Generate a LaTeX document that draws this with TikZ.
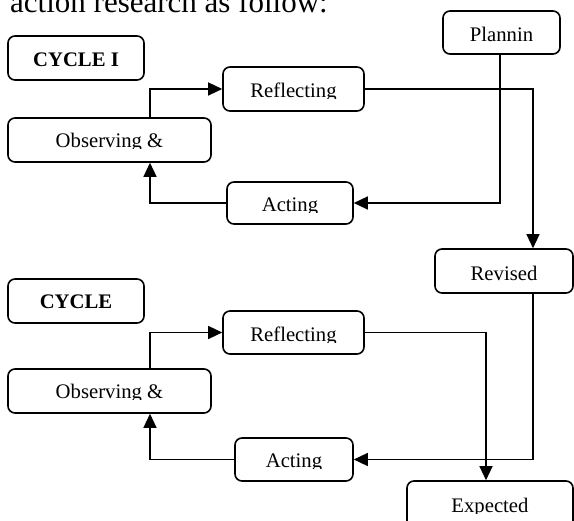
\documentclass[tikz,border=0pt]{standalone}
\usepackage{fontspec}
\setmainfont{Liberation Serif}
\usetikzlibrary{arrows.meta}
\tikzset{
  box/.style={draw, line width=1.6pt, rounded corners=7pt, inner sep=0pt},
  txt/.style={inner sep=0pt, font=\fontsize{20.7}{24}\selectfont, anchor=base},
  conn/.style={line width=1.3pt, -{Triangle[length=14pt,width=13pt]}},
  plain/.style={line width=1.3pt}
}
\newcommand\cliptext[6]{% name, x1, x2, ytop, baseline, text (center x computed)
  \begin{scope}
    \clip (#2,#4) rectangle (#3,#5+1);
    \node[txt] (#1) at ({(#2+#3)/2},#5) {#6};
  \end{scope}}
\begin{document}
\begin{tikzpicture}[x=1pt,y=-1pt]
\useasboundingbox (0,0) rectangle (574,521);
% header
\node[inner sep=0pt, anchor=base west, font=\fontsize{31}{36}\selectfont] (head) at (10,13) {action research as follow:};
% cycle I
\node[box, minimum width=136pt, minimum height=44pt] (cyc1) at (76,58) {};
\node[box, minimum width=117pt, minimum height=43pt] (plan) at (501.5,32.5) {};
\node[box, minimum width=141pt, minimum height=44pt] (ref1) at (293.5,89) {};
\node[box, minimum width=203pt, minimum height=44pt] (obs1) at (109.5,140) {};
\node[box, minimum width=126pt, minimum height=42pt] (act1) at (290,203) {};
\node[box, minimum width=138pt, minimum height=44pt] (rev) at (504,271) {};
% cycle II
\node[box, minimum width=136pt, minimum height=44pt] (cyc2) at (76,301) {};
\node[box, minimum width=141pt, minimum height=43pt] (ref2) at (293.5,332.5) {};
\node[box, minimum width=203pt, minimum height=44pt] (obs2) at (109.5,391) {};
\node[box, minimum width=118pt, minimum height=43pt] (act2) at (294,459.5) {};
\node[box, minimum width=166pt, minimum height=60pt] (exp) at (490,511) {};
% texts
\cliptext{tcyc1}{8}{144}{36}{67}{\textbf{CYCLE I}}
\cliptext{tplan}{443}{560}{11}{42}{Plannin}
\cliptext{tref1}{223}{364}{67}{98}{Reflecting}
\cliptext{tobs1}{8}{211}{118}{148}{Observing \&}
\cliptext{tact1}{227}{353}{182}{212}{Acting}
\cliptext{trev}{435}{573}{250}{281}{Revised}
\cliptext{tcyc2}{8}{144}{279}{309}{\textbf{CYCLE}}
\cliptext{tref2}{223}{364}{311}{342}{Reflecting}
\cliptext{tobs2}{8}{211}{369}{399}{Observing \&}
\cliptext{tact2}{235}{353}{438}{468}{Acting}
\cliptext{texp}{407}{573}{481}{513}{Expected}
% connectors cycle I
\draw[conn] ([xshift=40.5pt]obs1.north) |- (ref1.west);
\draw[conn] (ref1.east) -| ([xshift=29pt]rev.north);
\draw[conn] ([xshift=-1.5pt]plan.south) |- (act1.east);
\draw[conn] (act1.west) -| ([xshift=40.5pt]obs1.south);
% connectors cycle II
\draw[conn] ([xshift=40.5pt]obs2.north) |- (ref2.west);
\draw[conn] (ref2.east) -| ([xshift=-4pt]exp.north);
\draw[conn] ([xshift=29pt]rev.south) |- (act2.east);
\draw[conn] (act2.west) -| ([xshift=40.5pt]obs2.south);
\end{tikzpicture}
\end{document}
